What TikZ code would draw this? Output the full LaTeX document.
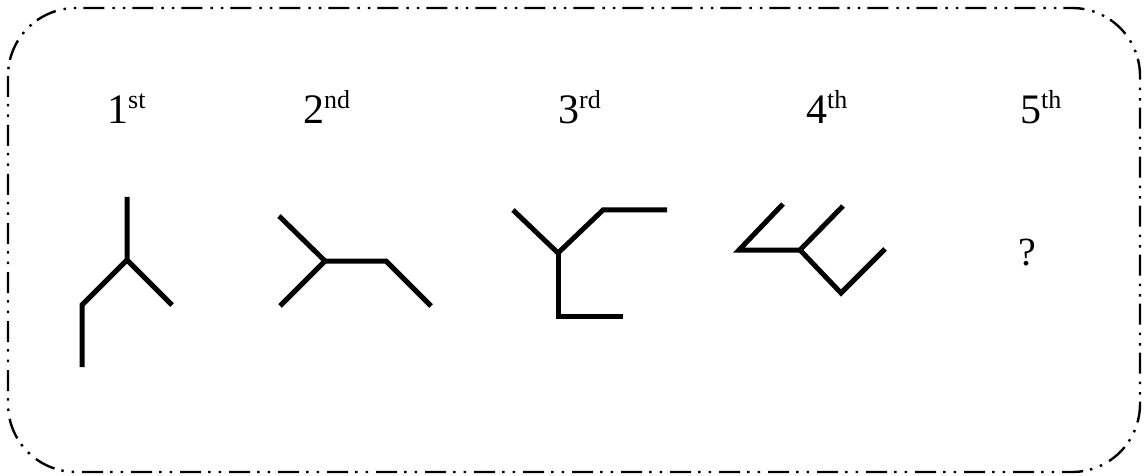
\documentclass[tikz,border=0pt]{standalone}
\usepackage{fontspec}
\setmainfont{Liberation Serif}
\newcommand{\ordlab}[2]{\fontsize{42}{50}\selectfont #1\raisebox{15pt}{\fontsize{26}{30}\selectfont #2}}
\tikzset{
  frameline/.style={line width=2.4pt, dash pattern=on 21pt off 7pt on 2.5pt off 8pt on 2.5pt off 8pt, rounded corners=68pt},
  figline/.style={line width=5pt},
  lab/.style={inner sep=0pt, anchor=base west}
}
\begin{document}
\begin{tikzpicture}[x=1pt,y=-1pt]
\useasboundingbox (0,0) rectangle (1144,476);
\draw[frameline] (8,8) rectangle (1140,472);
% labels
\node[lab] (l1) at (107,124) {\ordlab{1}{st}};
\node[lab] (l2) at (303,124) {\ordlab{2}{nd}};
\node[lab] (l3) at (558,124) {\ordlab{3}{rd}};
\node[lab] (l4) at (806,124) {\ordlab{4}{th}};
\node[lab] (l5) at (1020,124) {\ordlab{5}{th}};
\node[lab] (q) at (1018,265) {\fontsize{40}{48}\selectfont ?};
% figure 1
\draw[figline] (127,197) -- (127,260) -- (172,305);
\draw[figline] (127,260) -- (82,305) -- (82,367);
% figure 2
\draw[figline] (279,216) -- (325,261) -- (280,306);
\draw[figline] (325,261) -- (386,261) -- (431,306);
% figure 3
\draw[figline] (513,210) -- (558,253) -- (603,210) -- (667,210);
\draw[figline] (558,253) -- (558,316) -- (623,316);
% figure 4
\draw[figline] (783,204) -- (739,250) -- (800,250) -- (843,206);
\draw[figline] (800,250) -- (841,293) -- (885,249);
\end{tikzpicture}
\end{document}
